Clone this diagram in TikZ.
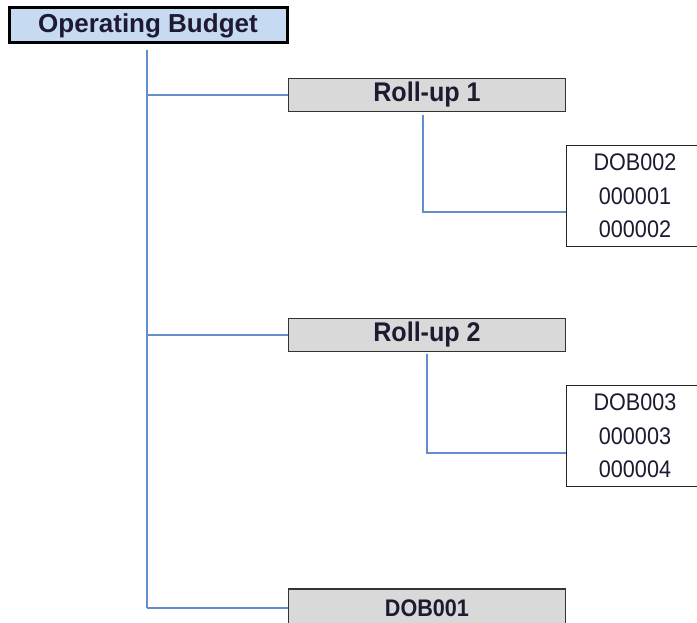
\documentclass[tikz,border=0pt]{standalone}
\usepackage{fontspec}
\setmainfont{Liberation Sans}
\newfontfamily\rollfont[FakeStretch=0.93]{Liberation Sans}
\newfontfamily\listfont[FakeStretch=0.9]{Liberation Sans}
\usetikzlibrary{positioning}
\definecolor{linkblue}{RGB}{98,142,206}
\definecolor{headblue}{RGB}{198,218,242}
\definecolor{rollgray}{RGB}{217,217,217}
\definecolor{txt}{RGB}{30,26,50}

\begin{document}
\begin{tikzpicture}[x=1pt,y=-1pt,
    link/.style={draw=linkblue,line width=1.6pt},
    headbox/.style={draw=black,line width=3pt,fill=headblue,minimum width=278pt,minimum height=35pt,inner sep=0pt,text=txt,font=\fontsize{26}{30}\selectfont\bfseries},
    rollbox/.style={draw=black!80,line width=1.5pt,fill=rollgray,minimum width=277pt,minimum height=33pt,inner sep=0pt,text=txt,font=\rollfont\fontsize{27}{30}\selectfont\bfseries},
    listbox/.style={draw=black!85,line width=1.5pt,fill=white,minimum width=137pt,minimum height=101pt,inner sep=0pt,align=center,text=txt,font=\listfont\fontsize{24}{33.5}\selectfont}]
      \useasboundingbox (0,0) rectangle (697,623);
      \node[headbox] (budget) at (148,25.5) {Operating Budget};
      \node[rollbox] (roll1) at (427,95) {Roll-up 1};
      \node[rollbox] (roll2) at (427,335) {Roll-up 2};
      \node[rollbox,minimum height=38pt,font=\listfont\fontsize{24}{30}\selectfont\bfseries] (dob1) at (427,608) {DOB001};
      \node[listbox] (list1) at (635,196) {DOB002\\000001\\000002};
      \node[listbox] (list2) at (635,436) {DOB003\\000003\\000004};
      \coordinate (top) at ([xshift=-1pt,yshift=-6pt]budget.south);
      \draw[link] (top) -- (top |- dob1.west);
      \foreach \n in {roll1,roll2,dob1}
        \draw[link] (top |- \n.west) -- (\n.west);
      \draw[link] ([shift={(-4pt,-3pt)}]roll1.south) |- ([yshift=-16pt]list1.west);
      \draw[link] ([shift={(0pt,-2pt)}]roll2.south) |- ([yshift=-17pt]list2.west);
    \end{tikzpicture}
\end{document}
